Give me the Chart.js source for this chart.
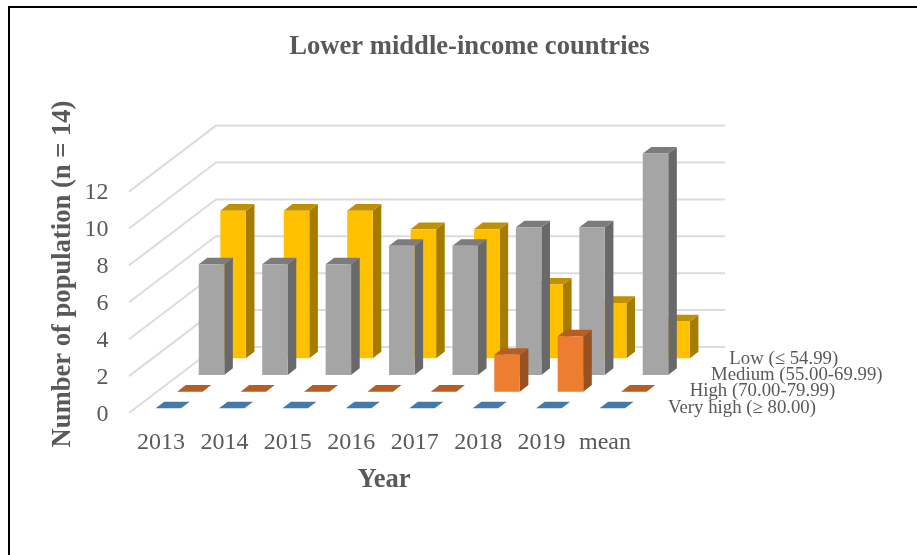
<!DOCTYPE html>
<html>
<head>
<meta charset="utf-8">
<style>html,body{margin:0;padding:0;background:#fff}canvas{display:block}</style>
<script src="https://cdn.jsdelivr.net/npm/chart.js@4"></script>
</head>
<body>
<canvas id="c" width="917" height="555"></canvas>
<script>
const categories = ['2013','2014','2015','2016','2017','2018','2019','mean'];
const veryHigh = [0,0,0,0,0,0,0,0];
const high     = [0,0,0,0,0,2,3,0];
const medium   = [6,6,6,7,7,8,8,12];
const low      = [8,8,8,7,7,4,3,2];
const seriesNames = ['Very high (≥ 80.00)','High (70.00-79.99)','Medium (55.00-69.99)','Low (≤ 54.99)'];
const chartTitle = 'Lower middle-income countries';
const yTitle = 'Number of population (n = 14)';
const xTitle = 'Year';

const FONT = '"Liberation Serif","Times New Roman",serif';
const TEXT = '#595959';
const STEP_X = 21.6, STEP_Y = 16.67;   // shift between depth rows
const DEPTH_X = 8.6, DEPTH_Y = 6.6;    // depth of one bar
const faces = [
  {front:'#5B9BD5', side:'#35688F', top:'#4579A8'},
  {front:'#ED7D31', side:'#9A5120', top:'#B55D22'},
  {front:'#A5A5A5', side:'#696969', top:'#7C7C7C'},
  {front:'#FFC000', side:'#A67C00', top:'#BF9000'}
];

function poly(ctx, pts, color){
  ctx.fillStyle = color;
  ctx.beginPath();
  pts.forEach((p,i)=> i ? ctx.lineTo(p[0],p[1]) : ctx.moveTo(p[0],p[1]));
  ctx.closePath();
  ctx.fill();
}

const walls = {
  id:'walls',
  beforeDatasetsDraw(chart){
    const {ctx, scales:{x, y}} = chart;
    ctx.save();
    ctx.strokeStyle = '#DCDCDC';
    ctx.lineWidth = 2;
    y.ticks.forEach(t=>{
      const p = y.getPixelForValue(t.value);
      ctx.beginPath();
      ctx.moveTo(x.left-7.6, p+4.7);
      ctx.lineTo(x.left+79.4, p-61.3);
      ctx.lineTo(x.right+81, p-61.3);
      ctx.stroke();
    });
    ctx.restore();
  }
};

const depthBars = {
  id:'depthBars',
  beforeDatasetDraw(chart, args){
    const ctx = chart.ctx, i = args.index, f = faces[i];
    ctx.save();
    ctx.translate(i*STEP_X, -i*STEP_Y);
    args.meta.data.forEach(b=>{
      const l = b.x-b.width/2, r = b.x+b.width/2;
      poly(ctx, [[r,b.y],[r+DEPTH_X,b.y-DEPTH_Y],[r+DEPTH_X,b.base-DEPTH_Y],[r,b.base]], f.side);
      poly(ctx, [[l,b.y],[r,b.y],[r+DEPTH_X,b.y-DEPTH_Y],[l+DEPTH_X,b.y-DEPTH_Y]], f.top);
    });
  },
  afterDatasetDraw(chart){ chart.ctx.restore(); }
};

const annotations = {
  id:'annotations',
  afterDraw(chart){
    const {ctx, scales:{x, y}} = chart;
    ctx.save();
    // frame (top and left edges only)
    ctx.fillStyle = '#000';
    ctx.fillRect(8,6,909,2);
    ctx.fillRect(8,6,2,549);
    // depth axis labels
    ctx.fillStyle = TEXT;
    ctx.font = '18.8px '+FONT;
    ctx.textBaseline = 'middle';
    ctx.textAlign = 'left';
    const lx = [24, 45.7, 67, 85.3];
    seriesNames.forEach((s,i)=>{
      ctx.fillText(s, x.right+lx[i], y.bottom-0.5-i*16.4);
    });
    // axis titles
    ctx.font = 'bold 26.6px '+FONT;
    ctx.textAlign = 'center';
    ctx.fillText(xTitle, 384, 480);
    ctx.translate(63, 274);
    ctx.rotate(-Math.PI/2);
    ctx.fillText(yTitle, 0, 0);
    ctx.restore();
  }
};

new Chart(document.getElementById('c'), {
  type:'bar',
  data:{
    labels:categories,
    datasets:[
      {label:seriesNames[0], data:veryHigh, backgroundColor:faces[0].front, clip:false},
      {label:seriesNames[1], data:high,     backgroundColor:faces[1].front, clip:false},
      {label:seriesNames[2], data:medium,   backgroundColor:faces[2].front, clip:false},
      {label:seriesNames[3], data:low,      backgroundColor:faces[3].front, clip:false}
    ]
  },
  plugins:[walls, depthBars, annotations],
  options:{
    responsive:false,
    animation:false,
    devicePixelRatio:1,
    grouped:false,
    barPercentage:0.402,
    categoryPercentage:1,
    layout:{padding:{left:22,right:0,top:0,bottom:0}},
    plugins:{
      legend:{display:false},
      tooltip:{enabled:false},
      title:{
        display:true,
        text:chartTitle,
        color:TEXT,
        font:{family:FONT,size:26.6,weight:'bold',lineHeight:1.2},
        padding:{top:30.8,bottom:124.2}
      }
    },
    scales:{
      x:{
        grid:{display:false},
        border:{display:false},
        ticks:{color:TEXT,font:{family:FONT,size:24},padding:12,labelOffset:-7.3,maxRotation:0,autoSkip:false},
        afterFit(s){ s.height = 146.7; }
      },
      y:{
        min:0,max:12,
        grid:{display:false,drawTicks:false},
        border:{display:false},
        ticks:{stepSize:2,color:TEXT,font:{family:FONT,size:24},padding:28,labelOffset:6},
        afterFit(s){ s.width = 114.6; }
      },
      spacer:{
        type:'linear',
        position:'right',
        grid:{display:false,drawTicks:false},
        border:{display:false},
        ticks:{display:false},
        afterFit(s){ s.width = 273; }
      }
    }
  }
});
</script>
</body>
</html>
